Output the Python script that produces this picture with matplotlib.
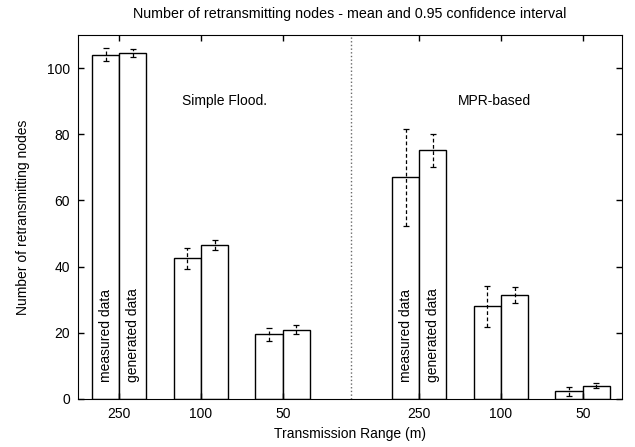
import matplotlib
matplotlib.use("Agg")
import matplotlib.pyplot as plt

# Donnees
portees = ["250", "100", "50", "250", "100", "50"]
positions = [0, 1, 2, 3.67, 4.67, 5.67]

mesure = [104.0, 42.5, 19.5, 67.0, 28.0, 2.3]
mesure_err = [2.0, 3.2, 2.0, 14.6, 6.1, 1.4]

genere = [104.5, 46.5, 21.0, 75.1, 31.4, 4.0]
genere_err = [1.2, 1.5, 1.3, 5.0, 2.4, 0.75]

plt.rcParams['font.family'] = ['Liberation Sans', 'DejaVu Sans']
plt.rcParams['font.size'] = 10

fig = plt.figure(figsize=(6.35, 4.47), dpi=100)
ax = fig.add_axes([0.1233, 0.1074, 0.9795 - 0.1233, 0.9217 - 0.1074])

largeur = 1 / 3
x_mes = [p - largeur / 2 for p in positions]
x_gen = [p + largeur / 2 for p in positions]

ax.bar(x_mes, mesure, width=largeur, color="white", edgecolor="black", linewidth=1)
ax.bar(x_gen, genere, width=largeur, color="white", edgecolor="black", linewidth=1)

# Barres d'erreur en pointilles
for xs, ys, es in [(x_mes, mesure, mesure_err), (x_gen, genere, genere_err)]:
    eb = ax.errorbar(xs, ys, yerr=es, fmt="none", ecolor="black",
                     elinewidth=0.9, capsize=2, capthick=0.9)
    eb[2][0].set_linestyle((0, (3, 2)))

# Separation entre les deux protocoles
ax.axvline(2.83, color="dimgray", linestyle=":", linewidth=1)

ax.text(0.77, 90, "Simple Flood.", va="center", ha="left")
ax.text(4.14, 90, "MPR-based", va="center", ha="left")

for p in [positions[0], positions[3]]:
    ax.text(p - largeur / 2, 5, "measured data", rotation=90, ha="center", va="bottom")
    ax.text(p + largeur / 2, 5, "generated data", rotation=90, ha="center", va="bottom")

ax.set_xlim(-0.5, 6.15)
ax.set_ylim(0, 110)
ax.set_xticks(positions)
ax.set_xticklabels(portees)
ax.set_yticks([0, 20, 40, 60, 80, 100])
ax.tick_params(direction="in", top=True, right=True, length=4, width=1, pad=6)

ax.set_xlabel("Transmission Range (m)", labelpad=4)
ax.set_ylabel("Number of retransmitting nodes", labelpad=12)
ax.set_title("Number of retransmitting nodes - mean and 0.95 confidence interval",
             fontsize=10.3, pad=12)

plt.savefig("out.png", dpi=100)
